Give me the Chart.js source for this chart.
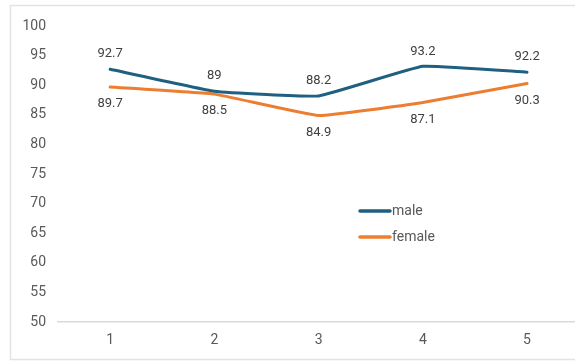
<!DOCTYPE html>
<html>
<head>
<meta charset="utf-8">
<script src="https://cdn.jsdelivr.net/npm/chart.js@4"></script>
<style>
  html, body { margin: 0; padding: 0; background: #fff; overflow: hidden; }
  #wrap { position: relative; width: 575px; height: 361px; }
</style>
</head>
<body>
<div id="wrap"><canvas id="c" width="575" height="361"></canvas></div>
<script>
// Survey scores by round
const categories = [1, 2, 3, 4, 5];
const male = [92.7, 89, 88.2, 93.2, 92.2];
const female = [89.7, 88.5, 84.9, 87.1, 90.3];
const seriesNames = ['male', 'female'];
const yTicks = [50, 55, 60, 65, 70, 75, 80, 85, 90, 95, 100];

const COLORS = ['#1f5f80', '#ed7d31'];
const FONT = 'Roboto, "Liberation Sans", sans-serif';

// light frame around the chart
const framePlugin = {
  id: 'frame',
  beforeDraw(chart) {
    const ctx = chart.ctx;
    ctx.save();
    ctx.strokeStyle = '#e3e3e3';
    ctx.lineWidth = 1.5;
    ctx.strokeRect(10.5, 5.5, 620, 354);
    ctx.restore();
  }
};

// value labels: first series above its points, second below
const valueLabels = {
  id: 'valueLabels',
  afterDatasetsDraw(chart) {
    const ctx = chart.ctx;
    ctx.save();
    ctx.font = '13px ' + FONT;
    ctx.fillStyle = '#404040';
    ctx.textAlign = 'center';
    ctx.textBaseline = 'middle';
    chart.data.datasets.forEach((ds, i) => {
      const meta = chart.getDatasetMeta(i);
      meta.data.forEach((pt, j) => {
        const dy = i === 0 ? -15 : 17;
        ctx.fillText(String(ds.data[j].y), pt.x, pt.y + dy);
      });
    });
    ctx.restore();
  }
};

// legend drawn inside the plot area
const innerLegend = {
  id: 'innerLegend',
  afterDraw(chart) {
    const ctx = chart.ctx;
    ctx.save();
    ctx.font = '14px ' + FONT;
    ctx.textBaseline = 'middle';
    ctx.textAlign = 'left';
    chart.data.datasets.forEach((ds, i) => {
      const y = 211 + i * 26;
      ctx.strokeStyle = ds.borderColor;
      ctx.lineWidth = 3.5;
      ctx.lineCap = 'round';
      ctx.beginPath();
      ctx.moveTo(360, y);
      ctx.lineTo(390, y);
      ctx.stroke();
      ctx.fillStyle = '#595959';
      ctx.fillText(ds.label, 392, y);
    });
    ctx.restore();
  }
};

const toPoints = arr => arr.map((v, i) => ({ x: categories[i], y: v }));

new Chart(document.getElementById('c'), {
  type: 'line',
  data: {
    datasets: [
      { label: seriesNames[0], data: toPoints(male), borderColor: COLORS[0], backgroundColor: COLORS[0] },
      { label: seriesNames[1], data: toPoints(female), borderColor: COLORS[1], backgroundColor: COLORS[1] }
    ]
  },
  options: {
    responsive: false,
    animation: false,
    devicePixelRatio: 1,
    layout: { padding: { left: 10, right: 0, top: 26, bottom: 2 } },
    elements: {
      line: { borderWidth: 3, tension: 0.1, borderCapStyle: 'round', borderJoinStyle: 'round' },
      point: { radius: 0, hoverRadius: 0 }
    },
    plugins: {
      legend: { display: false },
      tooltip: { enabled: false }
    },
    scales: {
      x: {
        type: 'linear',
        min: 0.5,
        max: 5.46,
        afterBuildTicks: axis => { axis.ticks = categories.map(v => ({ value: v })); },
        grid: { display: false, drawTicks: false, tickLength: 0 },
        border: { display: true, color: '#d9d9d9', width: 1.5 },
        ticks: { color: '#595959', font: { family: FONT, size: 14 }, padding: 10, maxRotation: 0 }
      },
      y: {
        min: 50,
        max: 100,
        afterBuildTicks: axis => { axis.ticks = yTicks.map(v => ({ value: v })); },
        afterFit: axis => { axis.width = 48; },
        grid: { display: false, drawTicks: false, tickLength: 0 },
        border: { display: false },
        ticks: { color: '#595959', font: { family: FONT, size: 14 }, padding: 12 }
      }
    }
  },
  plugins: [framePlugin, valueLabels, innerLegend]
});
</script>
</body>
</html>
